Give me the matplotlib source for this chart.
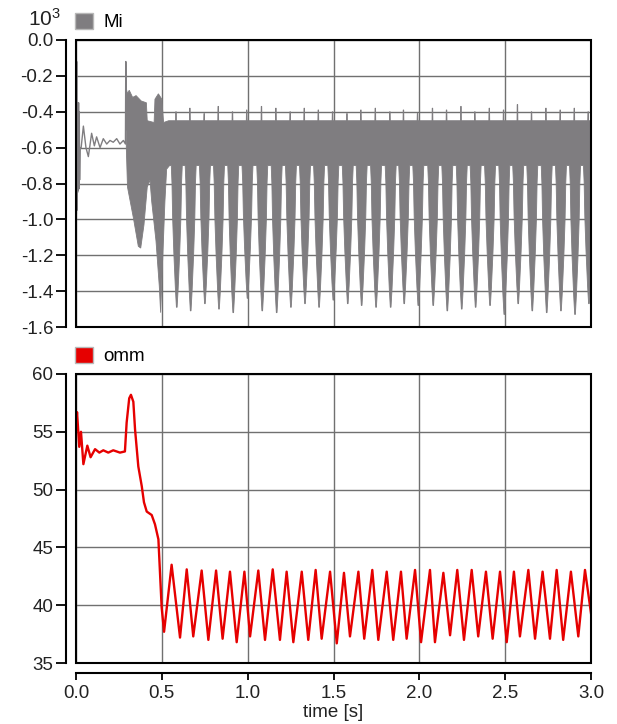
import matplotlib
matplotlib.use("Agg")
import matplotlib.pyplot as plt
from matplotlib.patches import Patch, Rectangle

# ---- Mi (scaled by 10^3) ----
# quiet start-up trace, 0 .. 0.29 s
mi_start_t = [0.0, 0.001, 0.002, 0.004, 0.005, 0.007, 0.009, 0.011, 0.013, 0.015,
              0.017, 0.019, 0.021, 0.024, 0.030, 0.043, 0.058, 0.072, 0.091, 0.107,
              0.120, 0.140, 0.159, 0.179, 0.198, 0.217, 0.237, 0.256, 0.276, 0.288,
              0.290, 0.293]
mi_start_v = [-0.55, -0.09, -0.97, -0.12, -0.95, -0.35, -0.85, -0.36, -0.84, -0.35,
              -0.83, -0.40, -0.78, -0.60, -0.60, -0.48, -0.60, -0.65, -0.52, -0.59,
              -0.54, -0.60, -0.55, -0.58, -0.56, -0.57, -0.55, -0.58, -0.56, -0.58,
              -0.12, -0.50]

# switching burst after 0.29 s: upper / lower envelope
mi_burst_hi_t = [0.293, 0.300, 0.310, 0.330, 0.350, 0.380, 0.410, 0.415, 0.455, 0.460,
                 0.480, 0.500, 0.510, 0.540]
mi_burst_hi = [-0.27, -0.30, -0.28, -0.32, -0.31, -0.34, -0.35, -0.45, -0.46, -0.33,
               -0.30, -0.33, -0.46, -0.45]
mi_burst_lo_t = [0.293, 0.300, 0.334, 0.363, 0.377, 0.396, 0.415, 0.431, 0.441, 0.466,
                 0.485, 0.493, 0.505, 0.518, 0.528, 0.545]
mi_burst_lo = [-0.60, -0.82, -0.99, -1.15, -1.16, -1.03, -0.82, -0.78, -0.90, -1.12,
               -1.37, -1.52, -1.22, -0.90, -0.72, -0.70]

# steady state: one deep dip and one top spike per cycle
mi_dip_t = [0.587, 0.668, 0.751, 0.833, 0.916, 0.999, 1.085, 1.169, 1.252, 1.334,
            1.416, 1.499, 1.583, 1.664, 1.748, 1.833, 1.912, 1.994, 2.081, 2.163,
            2.247, 2.328, 2.412, 2.495, 2.576, 2.658, 2.742, 2.825, 2.907, 2.988]
mi_dip_lo = [-1.49, -1.51, -1.47, -1.50, -1.52, -1.44, -1.51, -1.52, -1.49, -1.47,
             -1.49, -1.45, -1.47, -1.48, -1.49, -1.49, -1.47, -1.48, -1.48, -1.51,
             -1.50, -1.49, -1.48, -1.53, -1.47, -1.51, -1.52, -1.51, -1.53, -1.47]
mi_dip_hi = [-0.40, -0.38, -0.41, -0.37, -0.40, -0.39, -0.37, -0.38, -0.40, -0.38,
             -0.39, -0.40, -0.41, -0.39, -0.38, -0.40, -0.39, -0.41, -0.38, -0.39,
             -0.37, -0.40, -0.38, -0.39, -0.36, -0.40, -0.38, -0.39, -0.38, -0.40]

# ---- omm ----
omm_t = [0.0, 0.006, 0.019, 0.029, 0.043, 0.066, 0.085, 0.111, 0.136, 0.159,
         0.188, 0.217, 0.256, 0.285, 0.295, 0.310, 0.320, 0.334, 0.344, 0.363,
         0.383, 0.396, 0.412, 0.441, 0.460, 0.480, 0.489, 0.499, 0.513,
         0.557, 0.606, 0.645, 0.683, 0.732, 0.771, 0.816, 0.854, 0.897, 0.936,
         0.981, 1.014, 1.062, 1.101, 1.146, 1.188, 1.227, 1.266, 1.315, 1.353,
         1.396, 1.431, 1.480, 1.519, 1.561, 1.596, 1.645, 1.679, 1.726, 1.761,
         1.810, 1.848, 1.893, 1.926, 1.975, 2.010, 2.062, 2.091, 2.140, 2.179,
         2.221, 2.260, 2.305, 2.343, 2.388, 2.427, 2.470, 2.509, 2.551, 2.586,
         2.635, 2.674, 2.718, 2.761, 2.800, 2.838, 2.883, 2.926, 2.965, 3.000]
omm_v = [55.2, 56.7, 53.7, 55.0, 52.2, 53.8, 52.8, 53.5, 53.2, 53.4,
         53.2, 53.4, 53.2, 53.3, 55.8, 57.9, 58.2, 57.6, 55.2, 52.0,
         50.3, 48.9, 48.1, 47.8, 47.0, 45.7, 42.9, 39.8, 37.7,
         43.5, 37.2, 43.1, 37.3, 43.0, 37.0, 43.0, 37.1, 42.9, 36.8,
         42.9, 37.3, 43.0, 37.0, 43.1, 37.0, 42.9, 36.8, 42.9, 37.0,
         43.05, 37.1, 42.9, 36.7, 42.8, 37.3, 42.9, 37.1, 43.05, 37.0,
         42.9, 37.0, 42.9, 37.1, 43.05, 36.8, 43.05, 36.8, 42.8, 37.4,
         43.05, 37.0, 43.05, 37.3, 42.9, 37.1, 42.9, 36.8, 42.9, 37.3,
         43.05, 37.1, 42.9, 37.1, 43.05, 37.0, 42.9, 37.3, 43.05, 39.3]

x_ticks = [0.0, 0.5, 1.0, 1.5, 2.0, 2.5, 3.0]
x_labels = ["0.0", "0.5", "1.0", "1.5", "2.0", "2.5", "3.0"]
mi_ticks = [0.0, -0.2, -0.4, -0.6, -0.8, -1.0, -1.2, -1.4, -1.6]
mi_labels = ["0.0", "-0.2", "-0.4", "-0.6", "-0.8", "-1.0", "-1.2", "-1.4", "-1.6"]
omm_ticks = [35, 40, 45, 50, 55, 60]

GRAY = "#7f7d80"
RED = "#e60000"
FS = 13.5

plt.rcParams["font.family"] = ["Liberation Sans", "DejaVu Sans"]

fig = plt.figure(figsize=(6.17, 7.24), dpi=100)
ax1 = fig.add_axes([76 / 617, 1 - 327 / 724, 515 / 617, 287 / 724])
ax2 = fig.add_axes([76 / 617, 1 - 663 / 724, 515 / 617, 289 / 724])

# build Mi band outline: upper edge forward, lower edge backward
band_top = -0.45
band_bot = -0.70
# (time offset, fraction of dip depth) along one dip
dip_shape = [(-0.032, 0.0), (-0.028, 0.12), (-0.024, 0.37), (-0.017, 0.62), (-0.008, 0.87),
             (-0.002, 1.0), (0.002, 1.0), (0.008, 0.87), (0.017, 0.62), (0.024, 0.37),
             (0.028, 0.12), (0.032, 0.0)]
up_t, up_v = list(mi_burst_hi_t), list(mi_burst_hi)
lo_t, lo_v = list(mi_burst_lo_t), list(mi_burst_lo)
for t, lo, hi in zip(mi_dip_t, mi_dip_lo, mi_dip_hi):
    for dt, f in dip_shape:
        lo_t.append(t + dt)
        lo_v.append(band_bot + f * (lo - band_bot))
    up_t += [t - 0.032, t - 0.007, t - 0.006, t - 0.003, t - 0.002, t + 0.032]
    up_v += [band_top, band_top, hi, hi, band_top, band_top]

ax1.plot(mi_start_t, mi_start_v, color=GRAY, lw=1.0)
ax1.fill(up_t + lo_t[::-1], up_v + lo_v[::-1], color=GRAY, lw=0.6)

ax2.plot(omm_t, omm_v, color=RED, lw=1.7)

for ax in (ax1, ax2):
    ax.set_xlim(0, 3.0)
    ax.set_xticks(x_ticks)
    ax.set_axisbelow(True)
    ax.grid(True, color="#707070", lw=1.0)
    for s in ("top", "right", "bottom"):
        ax.spines[s].set_visible(False)
    ax.spines["left"].set_position(("outward", 7.2))
    ax.spines["left"].set_linewidth(1.5)
    ax.tick_params(axis="y", direction="out", length=7.2, width=1.3,
                   pad=2, labelsize=FS, labelcolor="#222222")
    ax.add_patch(Rectangle((0, 0), 1, 1, transform=ax.transAxes, fill=False,
                           ec="black", lw=1.5, clip_on=False, zorder=10))

ax1.set_ylim(-1.6, 0.0)
ax1.set_yticks(mi_ticks)
ax1.set_yticklabels(mi_labels)
ax1.tick_params(axis="x", length=0, labelbottom=False)

ax2.set_ylim(35, 60)
ax2.set_yticks(omm_ticks)
ax2.spines["bottom"].set_visible(True)
ax2.spines["bottom"].set_position(("outward", 7.2))
ax2.spines["bottom"].set_linewidth(1.5)
ax2.set_xticklabels(x_labels)
ax2.tick_params(axis="x", direction="out", length=5, width=1.3, pad=4,
                labelsize=FS, labelcolor="#222222")
ax2.set_xlabel("time [s]", fontsize=FS, labelpad=1, color="#222222")

# legends above each panel
for ax, col, name in ((ax1, GRAY, "Mi"), (ax2, RED, "omm")):
    ax.legend(handles=[Patch(facecolor=col, edgecolor="#b8b8b8", lw=1.0)], labels=[name],
              loc="lower left", bbox_to_anchor=(-0.002, 1.03), frameon=False,
              borderpad=0, borderaxespad=0, handlelength=0.95, handleheight=0.95,
              handletextpad=0.55, fontsize=FS)

fig.text(28 / 617, 1 - 26 / 724, r"$\mathregular{10^3}$", fontsize=15, color="#222222",
         ha="left", va="baseline")

fig.savefig("out.png", dpi=100)
